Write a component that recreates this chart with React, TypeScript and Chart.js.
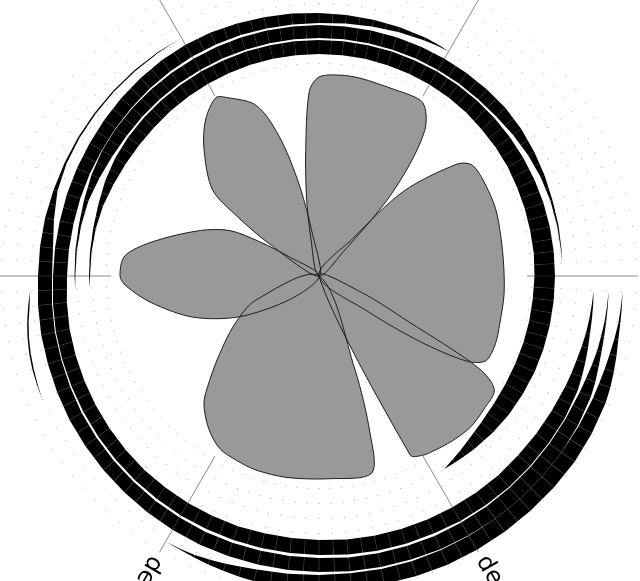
import React, { useEffect, useRef } from "react";
import { Chart, registerables } from "chart.js";

// ---------- data ----------
const STEP = 3; // degrees between angular positions
const COUNT = 120;
const R_MAX = 319; // scale maximum (radius units)
const CLEAR_RADIUS = 208; // empty core around the petals

const AXIS_ANGLES = [30, 90, 150, 210, 270, 330];
const AXIS_TEXT = ["decay", "delta", "depth", "density", "degree", "demand"];

// petals: angle (deg, clockwise from top) and radius
const PETAL_A_ANGLE = [180, 231, 243, 252, 261, 267, 270, 276, 282, 291, 297, 300, 303];
const PETAL_A_R = [0, 37, 90, 133, 170, 193, 199, 195, 168, 127, 100, 68, 34];

const PETAL_B_ANGLE = [180, 303, 306, 309, 318, 324, 330, 333, 339, 342, 345, 348, 351];
const PETAL_B_R = [0, 60, 100, 137, 172, 193, 206, 200, 185, 167, 134, 90, 44];

const PETAL_C_ANGLE = [180, 348, 351, 354, 357, 0, 6, 12, 21, 30, 33, 36, 39, 42, 45];
const PETAL_C_R = [0, 40, 80, 127, 185, 199, 202, 202, 201, 203, 196, 180, 145, 100, 35];

const PETAL_D_ANGLE = [0, 42, 45, 51, 54, 60, 69, 78, 87, 96, 105, 111, 117, 120, 123, 126];
const PETAL_D_R = [0, 50, 120, 178, 189, 190, 189, 186, 185, 186, 187, 189, 187, 170, 120, 60];

const PETAL_E_ANGLE = [0, 111, 117, 120, 123, 129, 135, 141, 147, 150, 153];
const PETAL_E_R = [0, 45, 100, 185, 209, 212, 214, 212, 209, 207, 201];

const PETAL_F_ANGLE = [0, 159, 162, 165, 177, 189, 198, 204, 210, 216, 222, 225, 231, 240, 249];
const PETAL_F_R = [0, 100, 165, 204, 203, 204, 204, 202, 199, 188, 172, 158, 130, 98, 68];

// bands: [angle, outer radius, inner radius]
const BAND_1: number[][] = [
  [267, 229.5, 229.5], [270, 230, 229], [276, 230.3, 228.7], [282, 230.8, 228.2], [288, 232, 227],
  [294, 234, 225], [300, 235.5, 223.5], [306, 236, 222.5], [312, 236, 222], [318, 236, 222],
  [324, 236, 222], [330, 236, 222], [336, 236, 222], [342, 236, 222], [348, 236, 222], [354, 236, 222],
  [0, 236, 222], [6, 236, 222], [12, 236, 222], [18, 236, 221.5], [24, 236, 221.5], [30, 236, 221],
  [36, 236, 220.5], [42, 236, 220], [48, 236, 219], [54, 236, 218.5], [60, 236, 218], [66, 236, 217],
  [72, 236, 216.5], [78, 236, 216], [84, 236, 216], [90, 236, 215.5], [96, 236, 215], [102, 236, 215],
  [108, 236, 215], [114, 236, 215], [120, 235.5, 215.5], [126, 235, 216.5], [132, 234, 218.5],
  [138, 232.5, 222], [141, 231.5, 224.5], [144, 230.8, 227], [147, 230, 230],
];

const BAND_2: number[][] = [
  [267, 244, 244], [270, 244.5, 243.7], [276, 245, 243.5], [282, 245.5, 243.2], [288, 247, 242.5],
  [294, 249, 240.5], [300, 250.5, 238.8], [306, 251, 238], [312, 251, 238], [318, 251, 238],
  [324, 251, 238], [330, 251, 238], [336, 251, 238], [342, 251, 238], [348, 251, 238], [354, 251, 238],
  [0, 251, 238], [6, 251, 238], [12, 251, 238], [18, 251, 238], [24, 251, 238], [30, 251, 238],
  [36, 251, 238], [42, 251, 238], [48, 251, 238.5], [54, 250, 240], [60, 248.5, 241.5],
  [66, 247, 242.7], [72, 245.5, 243.3], [78, 244.8, 243.4], [84, 244, 243.4], [87, 243.5, 243.5],
];

const BAND_3: number[][] = [
  [93, 275, 275], [96, 275.7, 274.3], [99, 276.3, 273.7], [102, 277, 273], [105, 278.5, 272],
  [108, 280, 271], [111, 281.5, 270.5], [114, 283, 270], [120, 284, 269], [126, 284, 268.5],
  [132, 284, 268], [138, 284, 268], [144, 283.5, 267.5], [150, 283, 267], [156, 282, 266.5],
  [162, 281.5, 266], [168, 281, 265.5], [174, 280, 265], [180, 279, 264], [186, 278.5, 263.5],
  [192, 278, 263], [198, 277.5, 263], [204, 277, 262.5], [210, 276.5, 262], [216, 275.5, 261.5],
  [222, 275, 261], [228, 274, 260], [234, 273, 259], [240, 272, 258], [246, 271, 257],
  [252, 270, 256], [258, 269, 255], [264, 267.5, 253.5], [270, 266, 252], [276, 265.5, 251.5],
  [282, 265, 251], [288, 265, 251], [294, 265, 251], [300, 265, 251], [306, 265.5, 251.5],
  [312, 266, 252], [318, 266.5, 252.5], [324, 267, 253], [330, 267, 253.5], [336, 266.5, 253.5],
  [342, 265.5, 253.5], [348, 264.5, 253], [354, 264, 253], [0, 263, 253], [6, 262.5, 253.8],
  [12, 262, 255], [18, 261.5, 256.5], [24, 261, 258], [27, 260.3, 258.8], [30, 259.5, 259.5],
];

const BAND_4: number[][] = [
  [93, 290, 290], [96, 290.4, 289.6], [99, 290.8, 289.2], [102, 291.5, 288.5], [105, 292.5, 288],
  [108, 294, 287], [111, 296, 286], [114, 297.5, 285.5], [120, 299, 285], [126, 300, 285],
  [132, 300, 285], [138, 300, 285], [144, 300, 285], [150, 299.5, 284.5], [156, 299, 284.5],
  [162, 298, 284], [168, 297.5, 283.5], [174, 297, 283], [180, 296, 282], [186, 295.5, 281.5],
  [192, 295, 281], [198, 294.5, 280.5], [204, 294, 280], [210, 293, 279], [216, 292, 278],
  [222, 291, 277], [228, 290, 276], [234, 289, 275], [240, 288, 274], [246, 286.5, 272.5],
  [252, 285, 271], [258, 284, 270], [264, 282.5, 268.5], [270, 281, 267], [276, 280.5, 267.5],
  [282, 280, 271], [288, 279, 275], [294, 278.5, 276.3], [300, 278, 276.4], [306, 277.5, 276],
  [312, 277, 275.6], [318, 276.5, 275.3], [324, 275.8, 275], [327, 275.2, 274.8], [330, 274.5, 274.5],
];

const BAND_5: number[][] = [
  [93, 304, 304], [96, 304.5, 303.5], [99, 305, 303], [102, 306, 302], [105, 308, 301],
  [108, 310, 300.5], [111, 312, 300], [114, 313.5, 300], [120, 315, 300], [126, 316, 300],
  [132, 316, 300], [138, 316, 300], [144, 316, 300], [150, 316, 300], [156, 316, 300],
  [162, 315.5, 300], [168, 315, 299.5], [174, 314, 299], [180, 313, 299], [186, 312.5, 299.5],
  [192, 312, 300], [195, 311, 301], [198, 310, 302.5], [201, 309, 304], [204, 308, 305.5],
  [207, 307, 306], [210, 306.5, 306.5],
];

const BAND_6: number[][] = [
  [246, 303, 303], [249, 302.3, 301.5], [252, 301.5, 300], [255, 300, 298.5], [258, 298, 296.5],
  [261, 295.5, 294], [264, 292.5, 291], [267, 289.5, 289.5],
];

const SEAM_COLOR = "#3c3c3c";

// ---------- helpers ----------
function series(angles: number[], values: number[]) {
  const out: (number | null)[] = new Array(COUNT).fill(null);
  angles.forEach((a, i) => {
    out[Math.round(a / STEP) % COUNT] = values[i];
  });
  return out;
}

const LABELS: string[] = new Array(COUNT).fill("");
AXIS_ANGLES.forEach((a, i) => {
  LABELS[Math.round(a / STEP)] = AXIS_TEXT[i];
});

const isAxis = (i: number) => LABELS[i] !== "";

const clearCenter = {
  id: "clearCenter",
  beforeDatasetsDraw(chart: any) {
    const s = chart.scales && chart.scales.r;
    if (!s) return;
    const ctx = chart.ctx;
    ctx.save();
    ctx.beginPath();
    ctx.arc(s.xCenter, s.yCenter, s.getDistanceFromCenterForValue(CLEAR_RADIUS), 0, Math.PI * 2);
    ctx.fillStyle = "#ffffff";
    ctx.fill();
    ctx.restore();
  },
};
Chart.register(clearCenter);
Chart.register(...registerables);

const axisText = {
  id: "axisText",
  afterDraw(chart: any) {
    const s = chart.scales.r;
    const ctx = chart.ctx;
    ctx.save();
    ctx.font = "24px 'DejaVu Sans'";
    ctx.fillStyle = "#000";
    ctx.textAlign = "left";
    ctx.textBaseline = "middle";
    (chart.data.labels as string[]).forEach((t, i) => {
      if (!t) return;
      const p = s.getPointPosition(i, s.drawingArea + 6);
      ctx.save();
      ctx.translate(p.x, p.y);
      ctx.rotate(p.angle);
      ctx.fillText(t, 0, 0);
      ctx.restore();
    });
    ctx.restore();
  },
};

function bandFill(c: any) {
  const chart = c.chart;
  const s = chart && chart.scales && chart.scales.r;
  const ctx = chart && chart.ctx;
  if (!s || !isFinite(s.xCenter) || !ctx || !ctx.createConicGradient) return "#000000";
  const g = ctx.createConicGradient(-Math.PI / 2, s.xCenter, s.yCenter);
  const w = 0.00045;
  g.addColorStop(0, SEAM_COLOR);
  for (let k = 0; k < COUNT; k++) {
    const o = k / COUNT;
    if (k > 0) {
      g.addColorStop(o - w, "#000000");
      g.addColorStop(o, SEAM_COLOR);
    }
    g.addColorStop(o + w, "#000000");
  }
  g.addColorStop(1 - w, "#000000");
  g.addColorStop(1, SEAM_COLOR);
  return g;
}

function petal(angles: number[], r: number[]) {
  return {
    data: series(angles, r),
    fill: "origin",
    backgroundColor: "#999999",
    borderColor: "#1e1e1e",
    borderWidth: 1,
    pointRadius: 0,
    pointHoverRadius: 0,
    spanGaps: true,
    tension: 0.3,
  };
}

function band(rows: number[][]) {
  const angles = rows.map((r) => r[0]);
  const common = {
    borderColor: "transparent",
    borderWidth: 0,
    pointRadius: 0,
    pointHoverRadius: 0,
    spanGaps: true,
    tension: 0,
  };
  return [
    { ...common, data: series(angles, rows.map((r) => r[1])), fill: "+1", backgroundColor: bandFill },
    { ...common, data: series(angles, rows.map((r) => r[2])), fill: false, backgroundColor: "transparent" },
  ];
}

export default function App() {
  const ref = useRef<HTMLCanvasElement>(null);

  useEffect(() => {
    if (!ref.current) return;
    const datasets: any[] = [
      petal(PETAL_A_ANGLE, PETAL_A_R),
      petal(PETAL_B_ANGLE, PETAL_B_R),
      petal(PETAL_C_ANGLE, PETAL_C_R),
      petal(PETAL_D_ANGLE, PETAL_D_R),
      petal(PETAL_E_ANGLE, PETAL_E_R),
      petal(PETAL_F_ANGLE, PETAL_F_R),
      ...band(BAND_1),
      ...band(BAND_2),
      ...band(BAND_3),
      ...band(BAND_4),
      ...band(BAND_5),
      ...band(BAND_6),
    ];
    const chart = new Chart(ref.current, {
      type: "radar",
      data: { labels: LABELS, datasets },
      options: {
        animation: false,
        responsive: false,
        events: [],
        layout: { padding: 0 },
        plugins: {
          legend: { display: false },
          tooltip: { enabled: false },
          filler: { drawTime: "beforeDatasetsDraw", propagate: false },
        } as any,
        scales: {
          r: {
            min: 0,
            max: R_MAX,
            startAngle: 0,
            ticks: { display: false },
            grid: { display: false },
            pointLabels: { display: false },
            angleLines: {
              display: true,
              color: (c: any) => (isAxis(c.index) ? "#8a8a8a" : "#a0a0a0"),
              lineWidth: 1,
              borderDash: (c: any) => (isAxis(c.index) ? [] : [1, 14]),
              borderDashOffset: (c: any) => (isAxis(c.index) ? 0 : -2),
            },
          } as any,
        },
      },
      plugins: [axisText],
    } as any);
    return () => chart.destroy();
  }, []);

  return (
    <div style={{ position: "fixed", left: 0, top: 0, width: 640, height: 581, overflow: "hidden", background: "#fff" }}>
      <div style={{ position: "absolute", left: 0, top: -43, width: 638, height: 638 }}>
        <canvas ref={ref} width={638} height={638} />
      </div>
    </div>
  );
}
